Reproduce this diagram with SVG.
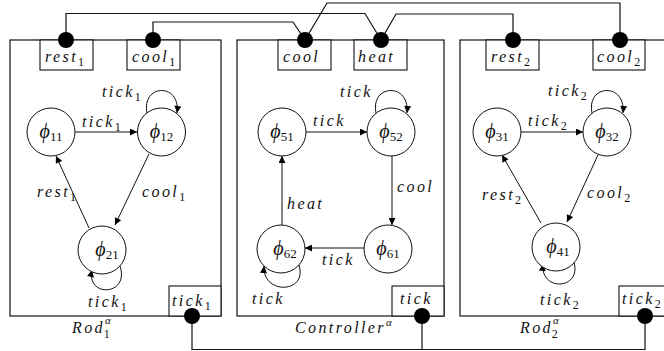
<svg xmlns="http://www.w3.org/2000/svg" width="664" height="351" viewBox="0 0 664 351">
  <style>
    .box { fill: none; stroke: #111; stroke-width: 1.2; }
    .port { fill: #fff; stroke: #111; stroke-width: 1.1; }
    .dot { fill: #000; }
    .wire { fill: none; stroke: #111; stroke-width: 1.2; }
    .st { fill: #fff; stroke: #111; stroke-width: 1; }
    .edge { fill: none; stroke: #111; stroke-width: 1; }
    .lbl { font-family: "Liberation Serif", "Times New Roman", serif; font-style: italic; font-size: 16px; letter-spacing: 2.4px; fill: #111; }
    .sub { font-style: normal; font-size: 12px; letter-spacing: 0; }
    .sup { font-size: 11px; letter-spacing: 0; }
    .phi { font-family: "Liberation Serif", "Times New Roman", serif; font-style: italic; font-size: 20px; fill: #111; }
    .phisub { font-style: normal; font-size: 13px; }
  </style>
  <defs>
    <marker id="arr" viewBox="0 0 10 10" refX="10" refY="5" markerWidth="8" markerHeight="7" markerUnits="userSpaceOnUse" orient="auto">
      <path d="M0,0 L10,5 L0,10 z" fill="#000"/>
    </marker>
  </defs>
  <rect width="664" height="351" fill="#fff"/>

  <!-- shared wiring between components -->
  <g id="connectors">
    <path class="wire" d="M66,40 V13.5 H365 L381,40"/>
    <path class="wire" d="M153,40 V22 H293 L305,40"/>
    <path class="wire" d="M305,40 L327,3 H620 V40"/>
    <path class="wire" d="M381,40 L396,14 H513 V40"/>
    <path class="wire" d="M192,316 V349.5 H645 V316"/>
    <path class="wire" d="M422,316 V349.5"/>
  </g>

  <!-- Rod 1 -->
  <g id="rod1">
    <rect class="box" x="10" y="40" width="211" height="276"/>
    <text class="lbl" x="72" y="333">Rod<tspan class="sup" dy="-9">α</tspan><tspan class="sub" dx="-7" dy="14">1</tspan></text>
    <g id="rod1-ports">
      <rect class="port" x="40" y="40" width="53" height="30"/>
      <text class="lbl" x="45" y="62">rest<tspan class="sub" dy="4">1</tspan></text>
      <rect class="port" x="127" y="40" width="53" height="30"/>
      <text class="lbl" x="132" y="62">cool<tspan class="sub" dy="4">1</tspan></text>
      <rect class="port" x="169" y="286" width="52" height="30"/>
      <text class="lbl" x="172" y="306">tick<tspan class="sub" dy="4">1</tspan></text>
    </g>
    <g id="rod1-edges">
      <line class="edge" x1="75" y1="132" x2="137" y2="132" marker-end="url(#arr)"/>
      <text class="lbl" x="82" y="127">tick<tspan class="sub" dy="4">1</tspan></text>
      <path class="edge" d="M147,113 C141,84 181,82 177,113" marker-end="url(#arr)"/>
      <text class="lbl" x="102" y="97">tick<tspan class="sub" dy="4">1</tspan></text>
      <line class="edge" x1="149" y1="154" x2="115" y2="225" marker-end="url(#arr)"/>
      <text class="lbl" x="142" y="197">cool<tspan class="sub" dy="4">1</tspan></text>
      <line class="edge" x1="89" y1="228" x2="56" y2="156" marker-end="url(#arr)"/>
      <text class="lbl" x="37" y="197">rest<tspan class="sub" dy="4">1</tspan></text>
      <path class="edge" d="M120,266 C130,296 86,298 92,270" marker-end="url(#arr)"/>
      <text class="lbl" x="88" y="307">tick<tspan class="sub" dy="4">1</tspan></text>
    </g>
    <g id="phi11">
      <circle class="st" cx="51" cy="132" r="24"/>
      <text class="phi" x="51" y="138" text-anchor="middle">ϕ<tspan class="phisub" dy="3">11</tspan></text>
    </g>
    <g id="phi12">
      <circle class="st" cx="161.5" cy="132" r="24"/>
      <text class="phi" x="161.5" y="138" text-anchor="middle">ϕ<tspan class="phisub" dy="3">12</tspan></text>
    </g>
    <g id="phi21">
      <circle class="st" cx="102" cy="250" r="24"/>
      <text class="phi" x="107" y="256" text-anchor="middle">ϕ<tspan class="phisub" dy="3">21</tspan></text>
    </g>
  </g>

  <!-- Controller -->
  <g id="controller">
    <rect class="box" x="237" y="40" width="207" height="276"/>
    <text class="lbl" x="295" y="333">Controller<tspan class="sup" dy="-7">α</tspan></text>
    <g id="controller-ports">
      <rect class="port" x="278" y="40" width="53" height="30"/>
      <text class="lbl" x="283" y="62">cool</text>
      <rect class="port" x="354" y="40" width="53" height="30"/>
      <text class="lbl" x="358" y="62">heat</text>
      <rect class="port" x="392" y="286" width="52" height="30"/>
      <text class="lbl" x="400" y="304">tick</text>
    </g>
    <g id="controller-edges">
      <line class="edge" x1="306" y1="132" x2="367" y2="132" marker-end="url(#arr)"/>
      <text class="lbl" x="313" y="126">tick</text>
      <path class="edge" d="M376,113 C370,84 410,82 407,113" marker-end="url(#arr)"/>
      <text class="lbl" x="340" y="97">tick</text>
      <line class="edge" x1="392" y1="156" x2="392" y2="225" marker-end="url(#arr)"/>
      <text class="lbl" x="397" y="192">cool</text>
      <line class="edge" x1="364" y1="248" x2="305" y2="248" marker-end="url(#arr)"/>
      <text class="lbl" x="322" y="265">tick</text>
      <line class="edge" x1="282" y1="225" x2="282" y2="156" marker-end="url(#arr)"/>
      <text class="lbl" x="287" y="209">heat</text>
      <path class="edge" d="M299,265 C308,294 262,295 264,266" marker-end="url(#arr)"/>
      <text class="lbl" x="252" y="304">tick</text>
    </g>
    <g id="phi51">
      <circle class="st" cx="282" cy="132" r="24"/>
      <text class="phi" x="282" y="138" text-anchor="middle">ϕ<tspan class="phisub" dy="3">51</tspan></text>
    </g>
    <g id="phi52">
      <circle class="st" cx="391" cy="132" r="24"/>
      <text class="phi" x="391" y="138" text-anchor="middle">ϕ<tspan class="phisub" dy="3">52</tspan></text>
    </g>
    <g id="phi61">
      <circle class="st" cx="388" cy="249" r="24"/>
      <text class="phi" x="388" y="255" text-anchor="middle">ϕ<tspan class="phisub" dy="3">61</tspan></text>
    </g>
    <g id="phi62">
      <circle class="st" cx="281" cy="249" r="24"/>
      <text class="phi" x="285" y="255" text-anchor="middle">ϕ<tspan class="phisub" dy="3">62</tspan></text>
    </g>
  </g>

  <!-- Rod 2 -->
  <g id="rod2">
    <rect class="box" x="460" y="40" width="212" height="276"/>
    <text class="lbl" x="520" y="333">Rod<tspan class="sup" dy="-9">α</tspan><tspan class="sub" dx="-7" dy="14">2</tspan></text>
    <g id="rod2-ports">
      <rect class="port" x="486" y="40" width="53" height="30"/>
      <text class="lbl" x="491" y="62">rest<tspan class="sub" dy="4">2</tspan></text>
      <rect class="port" x="593" y="40" width="52" height="30"/>
      <text class="lbl" x="597" y="62">cool<tspan class="sub" dy="4">2</tspan></text>
      <rect class="port" x="619" y="286" width="53" height="30"/>
      <text class="lbl" x="622" y="304">tick<tspan class="sub" dy="4">2</tspan></text>
    </g>
    <g id="rod2-edges">
      <line class="edge" x1="521" y1="132" x2="583" y2="132" marker-end="url(#arr)"/>
      <text class="lbl" x="528" y="126">tick<tspan class="sub" dy="4">2</tspan></text>
      <path class="edge" d="M592,113 C586,84 626,82 623,113" marker-end="url(#arr)"/>
      <text class="lbl" x="548" y="96">tick<tspan class="sub" dy="4">2</tspan></text>
      <line class="edge" x1="598" y1="155" x2="567" y2="222" marker-end="url(#arr)"/>
      <text class="lbl" x="587" y="198">cool<tspan class="sub" dy="4">2</tspan></text>
      <line class="edge" x1="541" y1="223" x2="502" y2="155" marker-end="url(#arr)"/>
      <text class="lbl" x="482" y="200">rest<tspan class="sub" dy="4">2</tspan></text>
      <path class="edge" d="M574,262 C582,290 540,292 543,264" marker-end="url(#arr)"/>
      <text class="lbl" x="540" y="305">tick<tspan class="sub" dy="4">2</tspan></text>
    </g>
    <g id="phi31">
      <circle class="st" cx="497" cy="132" r="24"/>
      <text class="phi" x="497" y="138" text-anchor="middle">ϕ<tspan class="phisub" dy="3">31</tspan></text>
    </g>
    <g id="phi32">
      <circle class="st" cx="607" cy="132" r="24"/>
      <text class="phi" x="607" y="138" text-anchor="middle">ϕ<tspan class="phisub" dy="3">32</tspan></text>
    </g>
    <g id="phi41">
      <circle class="st" cx="556" cy="247" r="24"/>
      <text class="phi" x="558" y="253" text-anchor="middle">ϕ<tspan class="phisub" dy="3">41</tspan></text>
    </g>
  </g>

  <!-- port sockets drawn over the box borders -->
  <g id="sockets">
    <circle class="dot" cx="66" cy="40" r="8"/>
    <circle class="dot" cx="153" cy="40" r="8"/>
    <circle class="dot" cx="305" cy="40" r="8"/>
    <circle class="dot" cx="381" cy="40" r="8"/>
    <circle class="dot" cx="513" cy="40" r="8"/>
    <circle class="dot" cx="620" cy="40" r="8"/>
    <circle class="dot" cx="192" cy="316" r="8"/>
    <circle class="dot" cx="422" cy="316" r="8"/>
    <circle class="dot" cx="645" cy="316" r="8"/>
  </g>
</svg>
